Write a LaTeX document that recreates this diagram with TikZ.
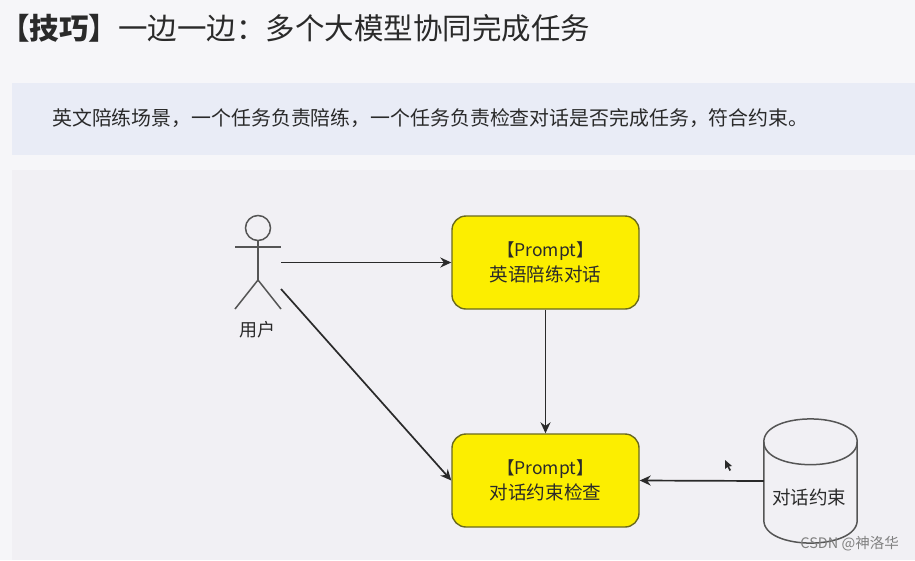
\documentclass[tikz,border=0pt]{standalone}
\usepackage{fontspec}
\setmainfont{Noto Sans CJK SC}
\usetikzlibrary{shapes.geometric,arrows.meta}
\definecolor{pagebg}{HTML}{F6F6F9}
\definecolor{bandbg}{HTML}{E9ECF6}
\definecolor{panelbg}{HTML}{F1F0F4}
\definecolor{ink}{HTML}{2A2A2A}
\definecolor{boxyellow}{HTML}{FCEE00}
\tikzset{
  promptbox/.style={draw=ink!70!yellow,line width=1.4pt,fill=boxyellow,rounded corners=14pt,minimum width=187pt,minimum height=93pt,inner sep=0pt,align=center,font=\fontsize{18.6}{25}\selectfont,text=ink},
  conn/.style={draw=ink,line width=1.7pt,-{Stealth[length=11pt,width=10pt]}},
  figure line/.style={draw=ink!80,line width=1.5pt},
  dbframe/.style={minimum width=93pt,minimum height=124pt,inner sep=0pt},
  plain/.style={inner sep=0pt,anchor=west,text=ink}
}
\begin{document}
\begin{tikzpicture}[x=1pt,y=-1pt]
\useasboundingbox (0,0) rectangle (915,560);
\fill[pagebg] (0,0) rectangle (915,560);
\fill[bandbg] (12,83) rectangle (915,155);
\fill[panelbg] (12,170) rectangle (915,560);
\node[plain,font=\fontsize{29.5}{32}\selectfont] (title) at (0,28) {\textbf{【技巧】}一边一边：多个大模型协同完成任务};
\node[plain,font=\fontsize{19.9}{24}\selectfont] (desc) at (52,118) {英文陪练场景，一个任务负责陪练，一个任务负责检查对话是否完成任务，符合约束。};
% user figure
\node[circle,figure line,minimum size=25pt,inner sep=0pt] (head) at (258,228) {};
\coordinate (armL) at (235,247);
\coordinate (armR) at (281,247);
\coordinate (hip) at (258,280);
\coordinate (legL) at (235,309);
\coordinate (legR) at (281,309);
\draw[figure line] (head.south) -- (hip);
\draw[figure line] (armL) -- (armR);
\draw[figure line] (legL) -- (hip) -- (legR);
\node[inner sep=0pt,font=\fontsize{18}{20}\selectfont,text=ink] (userlabel) at (257,330) {用户};
\node[promptbox] (p1) at (545.5,262.5) {\fontsize{17.5}{25}\selectfont 【Prompt】\\英语陪练对话};
\node[promptbox] (p2) at (545.5,480.5) {\fontsize{17.5}{25}\selectfont 【Prompt】\\对话约束检查};
% database
\node[dbframe] (db) at (810.5,481) {};
\path (db.north west) ++(0,23) coordinate (dbtl);
\path (db.north east) ++(0,23) coordinate (dbtr);
\path (db.south west) ++(0,-23) coordinate (dbbl);
\path (db.south east) ++(0,-23) coordinate (dbbr);
\draw[figure line] (dbtl) -- (dbbl) .. controls +(0,30.5) and +(0,30.5) .. (dbbr) -- (dbtr);
\draw[figure line] (dbtl) .. controls +(0,-30.5) and +(0,-30.5) .. (dbtr) .. controls +(0,30.5) and +(0,30.5) .. (dbtl) -- cycle;
\node[inner sep=0pt,font=\fontsize{18.5}{22}\selectfont,text=ink] (dblabel) at (809,497) {对话约束};
\coordinate (u1) at (281,262.5);
\coordinate (u2) at (281,289);
\draw[conn] (u1) -- (p1.west);
\draw[conn] (u2) -- (p2.west);
\draw[conn] (p1.south) -- (p2.north);
\draw[conn] (db.west) -- (p2.east);
% mouse pointer
\fill[ink] (725,460) -- (725,469) -- (727.5,467) -- (729.5,471) -- (731,470) -- (729,466.5) -- (732,466) -- cycle;
\node[inner sep=0pt,anchor=east,font=\fontsize{14.5}{16}\selectfont,text=black!50] (mark) at (899,544) {CSDN @神洛华};
\end{tikzpicture}
\end{document}
